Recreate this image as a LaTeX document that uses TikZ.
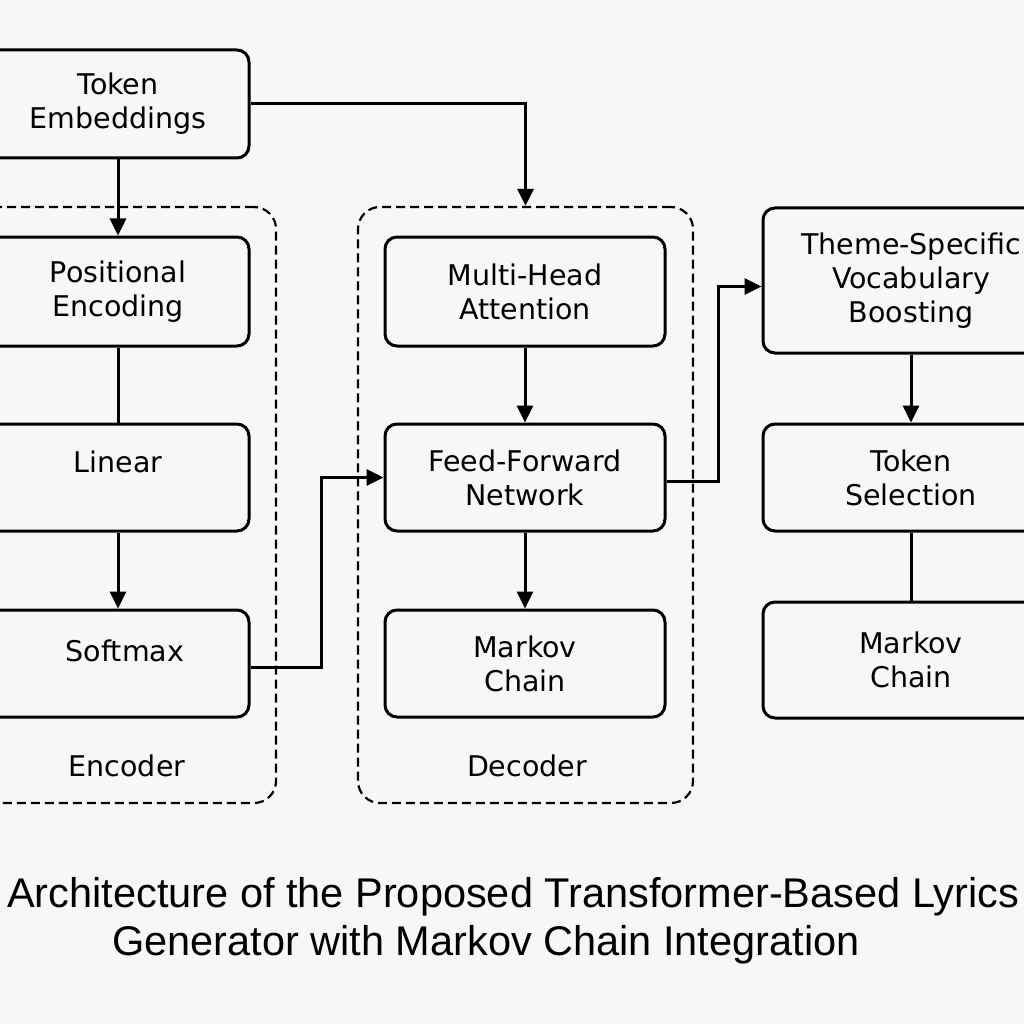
\documentclass[tikz,border=0pt]{standalone}
\usepackage{fontspec}
\setmainfont{DejaVu Sans}
\newfontfamily\titlefont{Liberation Sans}
\usetikzlibrary{arrows.meta}
\begin{document}
\begin{tikzpicture}[x=1pt,y=-1pt,
  box/.style={draw,line width=3pt,rounded corners=12pt,minimum width=280pt,align=center,
    font=\fontsize{28.5}{34}\selectfont,inner sep=0pt},
  grp/.style={draw,line width=2.2pt,dash pattern=on 9pt off 5pt,rounded corners=22pt,inner sep=0pt},
  lbl/.style={font=\fontsize{28.5}{34}\selectfont},
  conn/.style={line width=3pt},
  arr/.style={conn,-{Triangle[length=17pt,width=16pt]}},
  ttl/.style={font=\titlefont\fontsize{41.5}{48}\selectfont,anchor=base west,inner sep=0pt}]
\useasboundingbox (0,0) rectangle (1024,1024);
\clip (0,0) rectangle (1024,1024);
\fill[white!97!black] (0,0) rectangle (1024,1024);
% groups
\node[grp,minimum width=300pt,minimum height=596pt] (enc) at (126,505) {};
\node[grp,minimum width=335pt,minimum height=596pt] (dec) at (525.5,505) {};
\node[lbl] (encl) at (127,766) {Encoder};
\node[lbl] (decl) at (527,766) {Decoder};
% encoder column
\node[box,minimum width=262pt,minimum height=108pt] (te) at (118,104) {Token\\Embeddings};
\node[box,minimum width=262pt,minimum height=109pt] (pe) at (118,291.5) {Positional\\Encoding};
\node[box,minimum width=262pt,minimum height=107pt] (lin) at (118,477.5) {\raisebox{31pt}{Linear}};
\node[box,minimum width=262pt,minimum height=107pt] (sm) at (118,663.5) {\hspace*{14pt}\raisebox{26pt}{Softmax}};
% decoder column
\node[box,minimum height=109pt] (mha) at (525,291.5) {Multi-Head\\Attention};
\node[box,minimum height=107pt] (ffn) at (525,477.5) {Feed-Forward\\Network};
\node[box,minimum height=107pt] (mk1) at (525,663.5) {Markov\\Chain};
% right column
\node[box,minimum width=296pt,minimum height=145pt] (th) at (911,280.5) {Theme-Specific\\Vocabulary\\Boosting};
\node[box,minimum width=296pt,minimum height=107pt] (ts) at (911,477.5) {Token\\Selection};
\node[box,minimum width=296pt,minimum height=116pt] (mk2) at (911,660) {Markov\\Chain};
% connectors
\draw[arr] (te.east) -| (dec.north);
\draw[arr] (te.south) -- (pe.north);
\draw[conn] (pe.south) -- (lin.north);
\draw[arr] (lin.south) -- (sm.north);
\draw[arr] ([yshift=-4pt]sm.east) -- ++(71,0) |- (ffn.west);
\draw[arr] (mha.south) -- (ffn.north);
\draw[arr] (ffn.south) -- (mk1.north);
\draw[arr] ([yshift=-4pt]ffn.east) -- ++(52,0) |- ([yshift=-6pt]th.west);
\draw[arr] (th.south) -- (ts.north);
\draw[conn] (ts.south) -- (mk2.north);
% title
\node[ttl] (t1) at (7,907) {Architecture of the Proposed Transformer-Based Lyrics};
\node[ttl] (t2) at (112,955) {Generator with Markov Chain Integration};
\end{tikzpicture}
\end{document}
